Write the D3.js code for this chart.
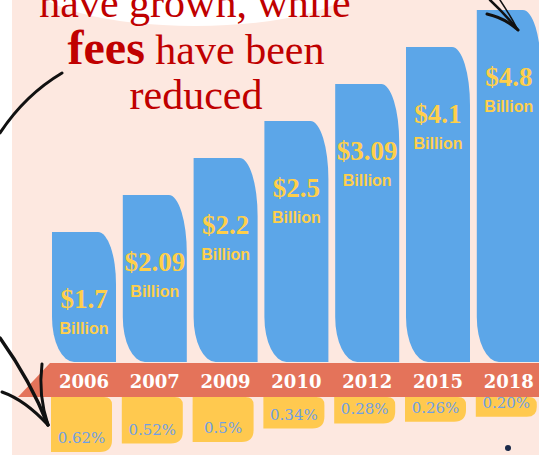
<!DOCTYPE html>
<html>
<head>
<meta charset="utf-8">
<script src="https://cdn.jsdelivr.net/npm/d3@7"></script>
<style>
  body { margin: 0; background: #fff; }
  svg { display: block; }
</style>
</head>
<body>
<div id="chart"></div>
<script>
const years = ['2006', '2007', '2009', '2010', '2012', '2015', '2018'];
const volume = [1.7, 2.09, 2.2, 2.5, 3.09, 4.1, 4.8];          // $ billion
const volumeLabels = ['$1.7', '$2.09', '$2.2', '$2.5', '$3.09', '$4.1', '$4.8'];
const fees = [0.62, 0.52, 0.5, 0.34, 0.28, 0.26, 0.20];         // percent
const feeLabels = ['0.62%', '0.52%', '0.5%', '0.34%', '0.28%', '0.26%', '0.20%'];

const width = 539;
const height = 455;

const BG = '#fde8e0';
const BLUE = '#5ca6e8';
const BAND = '#e4735a';
const YELLOW = '#ffc94f';
const RED = '#c00000';

const svg = d3.select('#chart')
    .append('svg')
    .attr('width', width)
    .attr('height', height);

// Background: white strip on the left, pink panel, white blob up top
svg.append('rect').attr('width', width).attr('height', height).attr('fill', '#fff');
svg.append('rect').attr('x', 12).attr('width', width - 12).attr('height', height).attr('fill', BG);
svg.append('ellipse')
    .attr('cx', 195).attr('cy', -20)
    .attr('rx', 165).attr('ry', 46)
    .attr('fill', '#fff');

// Title (top line is cropped in the original)
const title = svg.append('g')
    .style('font-family', '"Liberation Serif", "Times New Roman", serif')
    .style('fill', RED)
    .attr('text-anchor', 'middle');

title.append('text')
    .attr('x', 195).attr('y', 17)
    .style('font-size', '42px')
    .text('have grown, while');

const l2 = title.append('text')
    .attr('x', 196).attr('y', 64)
    .style('font-size', '42px');
l2.append('tspan').style('font-weight', 'bold').style('font-size', '48px').text('fees');
l2.append('tspan').text(' have been');

title.append('text')
    .attr('x', 196).attr('y', 109)
    .style('font-size', '42px')
    .text('reduced');

// Scales
const x = d3.scaleBand()
    .domain(years)
    .range([52, 540.8])
    .paddingInner(0.096)
    .paddingOuter(0);

// The designer steps the bars evenly by rank rather than by value
const barH = d3.scaleLinear()
    .domain([0, years.length - 1])
    .range([130, 352]);

const feeH = d3.scaleLinear()
    .domain([0, d3.max(fees)])
    .range([3, 55]);

const baseY = 362;
const bandTop = 363;
const bandBottom = 397;

function barPath(x0, y0, w, h) {
    const rx1 = 18, ry1 = Math.min(58, h * 0.4);
    const rx2 = 22, ry2 = 45;
    return `M${x0},${y0}H${x0 + w - rx1}` +
        `A${rx1},${ry1} 0 0 1 ${x0 + w},${y0 + ry1}` +
        `V${y0 + h}H${x0 + rx2}` +
        `A${rx2},${ry2} 0 0 1 ${x0},${y0 + h - ry2}Z`;
}

function boxPath(x0, y0, w, h) {
    const r1 = 8, r2 = Math.min(12, h / 2);
    return `M${x0},${y0}H${x0 + w - r1}` +
        `Q${x0 + w},${y0} ${x0 + w},${y0 + r1}` +
        `V${y0 + h - r2}` +
        `Q${x0 + w},${y0 + h} ${x0 + w - r2},${y0 + h}` +
        `H${x0}Z`;
}

const rows = years.map((y, i) => ({
    year: y, i, volume: volume[i], vLabel: volumeLabels[i],
    fee: fees[i], fLabel: feeLabels[i]
}));

// Bars
svg.append('g').selectAll('path')
    .data(rows)
    .join('path')
    .attr('d', d => barPath(x(d.year), baseY - barH(d.i), x.bandwidth(), barH(d.i)))
    .attr('fill', BLUE);

// Bar labels
const vl = svg.append('g')
    .attr('text-anchor', 'middle')
    .style('fill', '#ffcf4a');

vl.selectAll('.amt')
    .data(rows)
    .join('text')
    .attr('class', 'amt')
    .attr('x', d => x(d.year) + x.bandwidth() / 2)
    .attr('y', d => baseY - barH(d.i) + 76)
    .style('font-family', '"Liberation Serif", serif')
    .style('font-weight', 'bold')
    .style('font-size', '27px')
    .text(d => d.vLabel);

vl.selectAll('.bil')
    .data(rows)
    .join('text')
    .attr('class', 'bil')
    .attr('x', d => x(d.year) + x.bandwidth() / 2)
    .attr('y', d => baseY - barH(d.i) + 102)
    .style('font-family', '"Liberation Sans", sans-serif')
    .style('font-weight', 'bold')
    .style('font-size', '16px')
    .text('Billion');

// Year band with pointed left end
svg.append('path')
    .attr('d', `M50,${bandTop}H${width}V${bandBottom}H18Z`)
    .attr('fill', BAND);

svg.append('g').selectAll('text')
    .data(rows)
    .join('text')
    .attr('x', d => x(d.year) + x.bandwidth() / 2)
    .attr('y', 388)
    .attr('text-anchor', 'middle')
    .style('font-family', '"DejaVu Serif", serif')
    .style('font-weight', 'bold')
    .style('font-size', '18px')
    .style('fill', '#fff')
    .text(d => d.year);

// Fee boxes
const boxW = 61;
svg.append('g').selectAll('path')
    .data(rows)
    .join('path')
    .attr('d', d => boxPath(x(d.year) - 1, bandBottom, boxW, feeH(d.fee)))
    .attr('fill', YELLOW);

svg.append('g').selectAll('text')
    .data(rows)
    .join('text')
    .attr('x', d => x(d.year) - 1 + boxW / 2)
    .attr('y', d => bandBottom + feeH(d.fee) - 9)
    .attr('text-anchor', 'middle')
    .style('font-family', '"DejaVu Serif", serif')
    .style('font-size', '15px')
    .style('fill', '#6e9fe6')
    .text(d => d.fLabel);

// Hand-drawn arrows
const ink = svg.append('g')
    .attr('fill', 'none')
    .attr('stroke', '#111')
    .attr('stroke-linecap', 'round');

ink.append('path')
    .attr('d', 'M62,73 Q25,95 0,133')
    .attr('stroke-width', 3);
ink.append('path')
    .attr('d', 'M0,338 Q30,380 48,425')
    .attr('stroke-width', 3.5);
ink.append('path')
    .attr('d', 'M48,425 Q38,395 42,364')
    .attr('stroke-width', 3);
ink.append('path')
    .attr('d', 'M48,425 Q25,400 2,392')
    .attr('stroke-width', 3);

ink.append('path')
    .attr('d', 'M490,0 Q505,14 518,30')
    .attr('stroke-width', 2.5);
ink.append('path')
    .attr('d', 'M487,14 Q505,18 518,30')
    .attr('stroke-width', 3);
ink.append('path')
    .attr('d', 'M500,0 Q510,15 518,30')
    .attr('stroke-width', 1.5);

// Cropped text peeking in at the bottom right
svg.append('circle')
    .attr('cx', 508).attr('cy', 448).attr('r', 3)
    .attr('fill', '#1b2a4a');
</script>
</body>
</html>
